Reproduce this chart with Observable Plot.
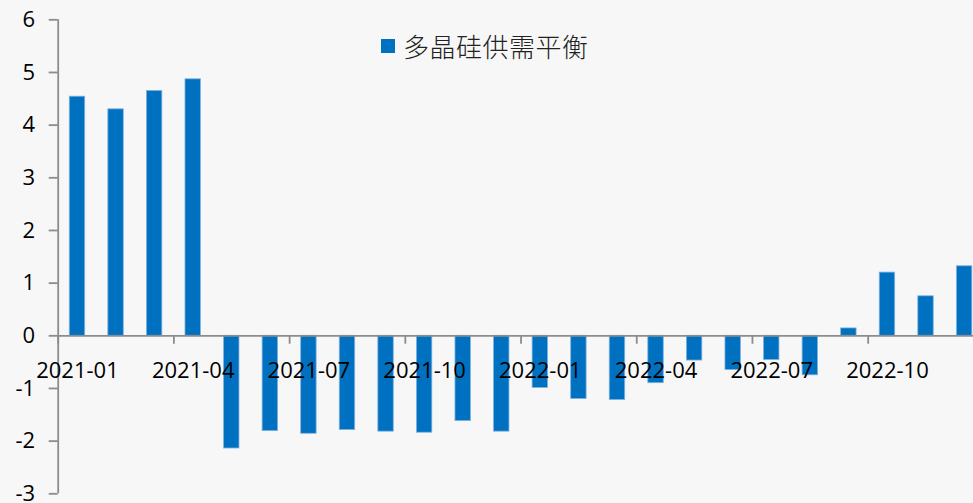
<!DOCTYPE html>
<html>
<head>
<meta charset="utf-8">
<script src="https://cdn.jsdelivr.net/npm/d3@7"></script>
<script src="https://cdn.jsdelivr.net/npm/@observablehq/plot@0.6"></script>
<style>
  html, body { margin: 0; padding: 0; background: #f7f7f7; overflow: hidden; }
  #wrap { position: relative; width: 973px; height: 503px; overflow: hidden; }
  #legend { position: absolute; left: 381px; top: 27px; display: flex; align-items: center;
    font-family: "Noto Sans CJK SC", sans-serif; font-size: 26px; color: #222; font-weight: 300; letter-spacing: 0.5px; }
  #legend .sw { width: 14px; height: 14px; background: #0070C0; margin-right: 8px; }
</style>
</head>
<body>
<div id="wrap">
  <div id="legend"><span class="sw"></span><span id="legendText"></span></div>
</div>
<script>
const seriesName = "多晶硅供需平衡";
const months = ["2021-01","2021-02","2021-03","2021-04","2021-05","2021-06","2021-07","2021-08","2021-09","2021-10","2021-11","2021-12",
                "2022-01","2022-02","2022-03","2022-04","2022-05","2022-06","2022-07","2022-08","2022-09","2022-10","2022-11","2022-12"];
const values = [4.54, 4.30, 4.65, 4.87, -2.14, -1.81, -1.86, -1.79, -1.82, -1.84, -1.62, -1.82,
                -0.99, -1.20, -1.22, -0.90, -0.47, -0.65, -0.46, -0.75, 0.14, 1.20, 0.75, 1.32];
const xLabels = ["2021-01","2021-04","2021-07","2021-10","2022-01","2022-04","2022-07","2022-10"];
const yTicks = [-3, -2, -1, 0, 1, 2, 3, 4, 5, 6];

const data = months.map((m, i) => ({month: m, value: values[i]}));
document.getElementById("legendText").textContent = seriesName;

const W = 973, H = 503;
const left = 57.7;
const step = 38.57;
const right = left + step * months.length;
const axisColor = "#8c8c8c";

const chart = Plot.plot({
  width: W,
  height: H,
  marginLeft: left,
  marginRight: 0,
  marginTop: 19.3,
  marginBottom: 9.7,
  style: {background: "#f7f7f7", fontFamily: "'Open Sans', sans-serif", overflow: "hidden"},
  x: {type: "band", domain: months, range: [left, right], paddingInner: 0.6, paddingOuter: 0.3, align: 0.5, round: false, axis: null},
  y: {domain: [-3, 6], axis: null},
  marks: [
    Plot.barY(data, {x: "month", y: "value", fill: "#0070C0", stroke: "#7fb2e0", strokeWidth: 0.8}),
    Plot.ruleY([0], {stroke: axisColor, strokeWidth: 1.8}),
    Plot.ruleX(xLabels, {x: d => d, y1: 0, y2: -0.16, dx: -step / 2, stroke: axisColor, strokeWidth: 1.8}),
    Plot.ruleX([months[0]], {x: d => d, y1: -3, y2: 6, dx: -step / 2, stroke: axisColor, strokeWidth: 1.8}),
    Plot.axisY(yTicks, {anchor: "left", tickSize: 9, tickPadding: 14, fontSize: 22, tickFormat: d => String(d), stroke: axisColor, strokeWidth: 1.8, fill: "black", label: null}),
    Plot.text(xLabels, {x: d => d, y: 0, dy: 35, text: d => d, fontSize: 22, fill: "black", letterSpacing: 1.5, lineAnchor: "middle"})
  ]
});
document.getElementById("wrap").prepend(chart);
</script>
</body>
</html>
